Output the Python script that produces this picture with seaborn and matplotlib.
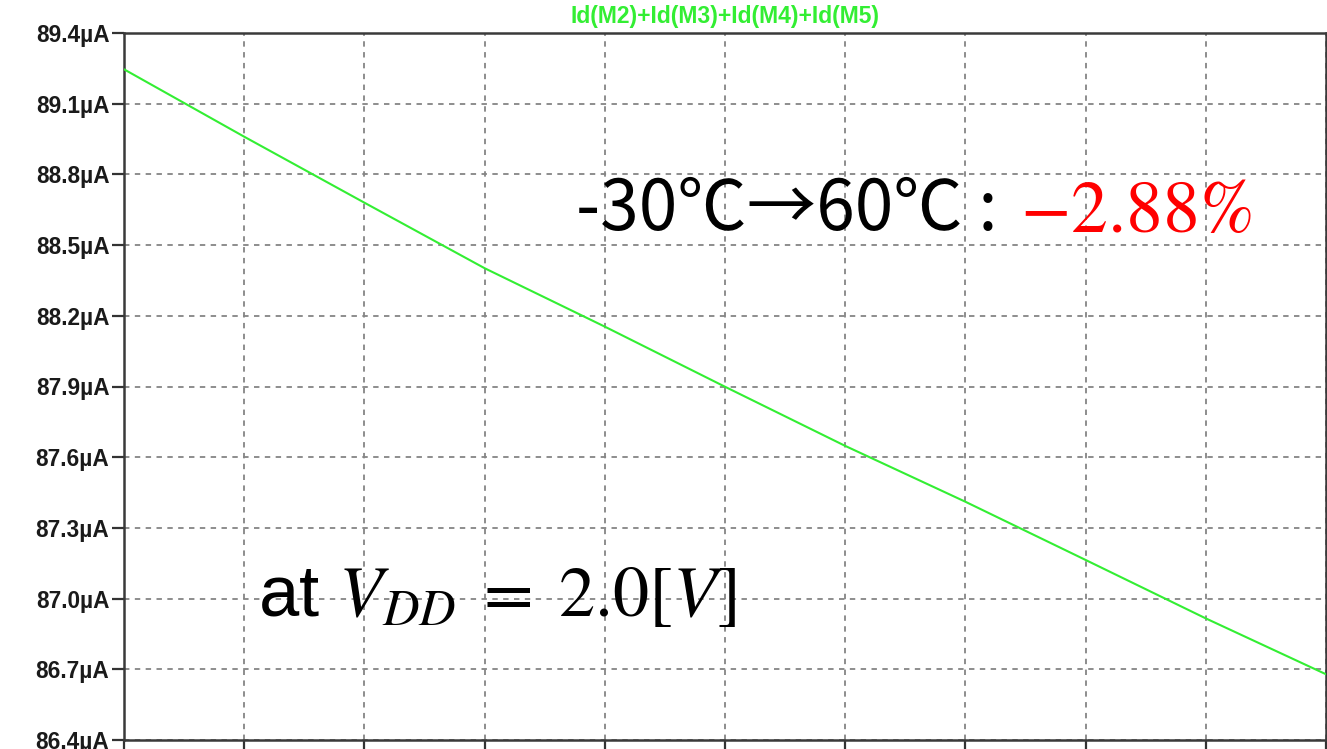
import matplotlib
matplotlib.use("Agg")
import matplotlib.pyplot as plt
import pandas as pd
import seaborn as sns

# ---- data ----
temperature_c = [-30, -21, -12, -3, 6, 15, 24, 33, 42, 51, 60]
current_uA = [89.246, 88.960, 88.680, 88.402, 88.154, 87.899,
              87.648, 87.411, 87.164, 86.916, 86.679]
y_ticks = [86.4, 86.7, 87.0, 87.3, 87.6, 87.9, 88.2, 88.5, 88.8, 89.1, 89.4]
y_tick_labels = ["86.4µA", "86.7µA", "87.0µA", "87.3µA", "87.6µA", "87.9µA",
                 "88.2µA", "88.5µA", "88.8µA", "89.1µA", "89.4µA"]
series_label = "Id(M2)+Id(M3)+Id(M4)+Id(M5)"
range_text = "-30℃→60℃ :"
change_text = r"$-2.88\%$"
condition_text = r"at $V_{DD}\;=\;2.0[V]$"

# ---- style ----
sns.set_style("white")
plt.rcParams["font.family"] = ["Liberation Sans", "DejaVu Sans"]
plt.rcParams["mathtext.fontset"] = "stix"

W, H = 1327, 749
fig = plt.figure(figsize=(W / 100, H / 100), dpi=100)
ax = fig.add_axes([124 / W, 1 - 740 / H, (1326 - 124) / W, (740 - 33) / H])

df = pd.DataFrame({"T": temperature_c, "I": current_uA})
sns.lineplot(data=df, x="T", y="I", ax=ax, color="#33ee33", linewidth=1.5, zorder=3)

ax.set_xlim(min(temperature_c), max(temperature_c))
ax.set_ylim(min(y_ticks), max(y_ticks))
ax.set_xticks(temperature_c)
ax.set_xticklabels([])
ax.set_yticks(y_ticks)
ax.set_yticklabels(y_tick_labels, fontweight="bold", fontsize=16.3, color="#1a1a1a")
ax.set_xlabel("")
ax.set_ylabel("")
ax.grid(True, linestyle=(0, (3, 3)), color="#858585", linewidth=1.3)
ax.tick_params(axis="both", direction="out", length=8.5, width=1.6,
               color="#333333", pad=2, left=True, bottom=True)
for sp in ax.spines.values():
    sp.set_color("#3a3a3a")
    sp.set_linewidth(1.8)
    sp.set_visible(True)

fig.text(725 / W, 1 - 17 / H, series_label, color="#33ee33", fontweight="bold",
         fontsize=16.5, ha="center", va="center")
fig.text(576 / W, 1 - 230 / H, range_text, fontsize=50, color="black",
         family=["Noto Sans CJK JP", "DejaVu Sans"], ha="left", va="baseline")
fig.text(1020 / W, 1 - 232 / H, change_text, fontsize=53, color="red",
         math_fontfamily="stix", ha="left", va="baseline")
fig.text(258 / W, 1 - 616 / H, condition_text, fontsize=52, color="black",
         math_fontfamily="stix", ha="left", va="baseline")

fig.savefig("out.png", dpi=100)
